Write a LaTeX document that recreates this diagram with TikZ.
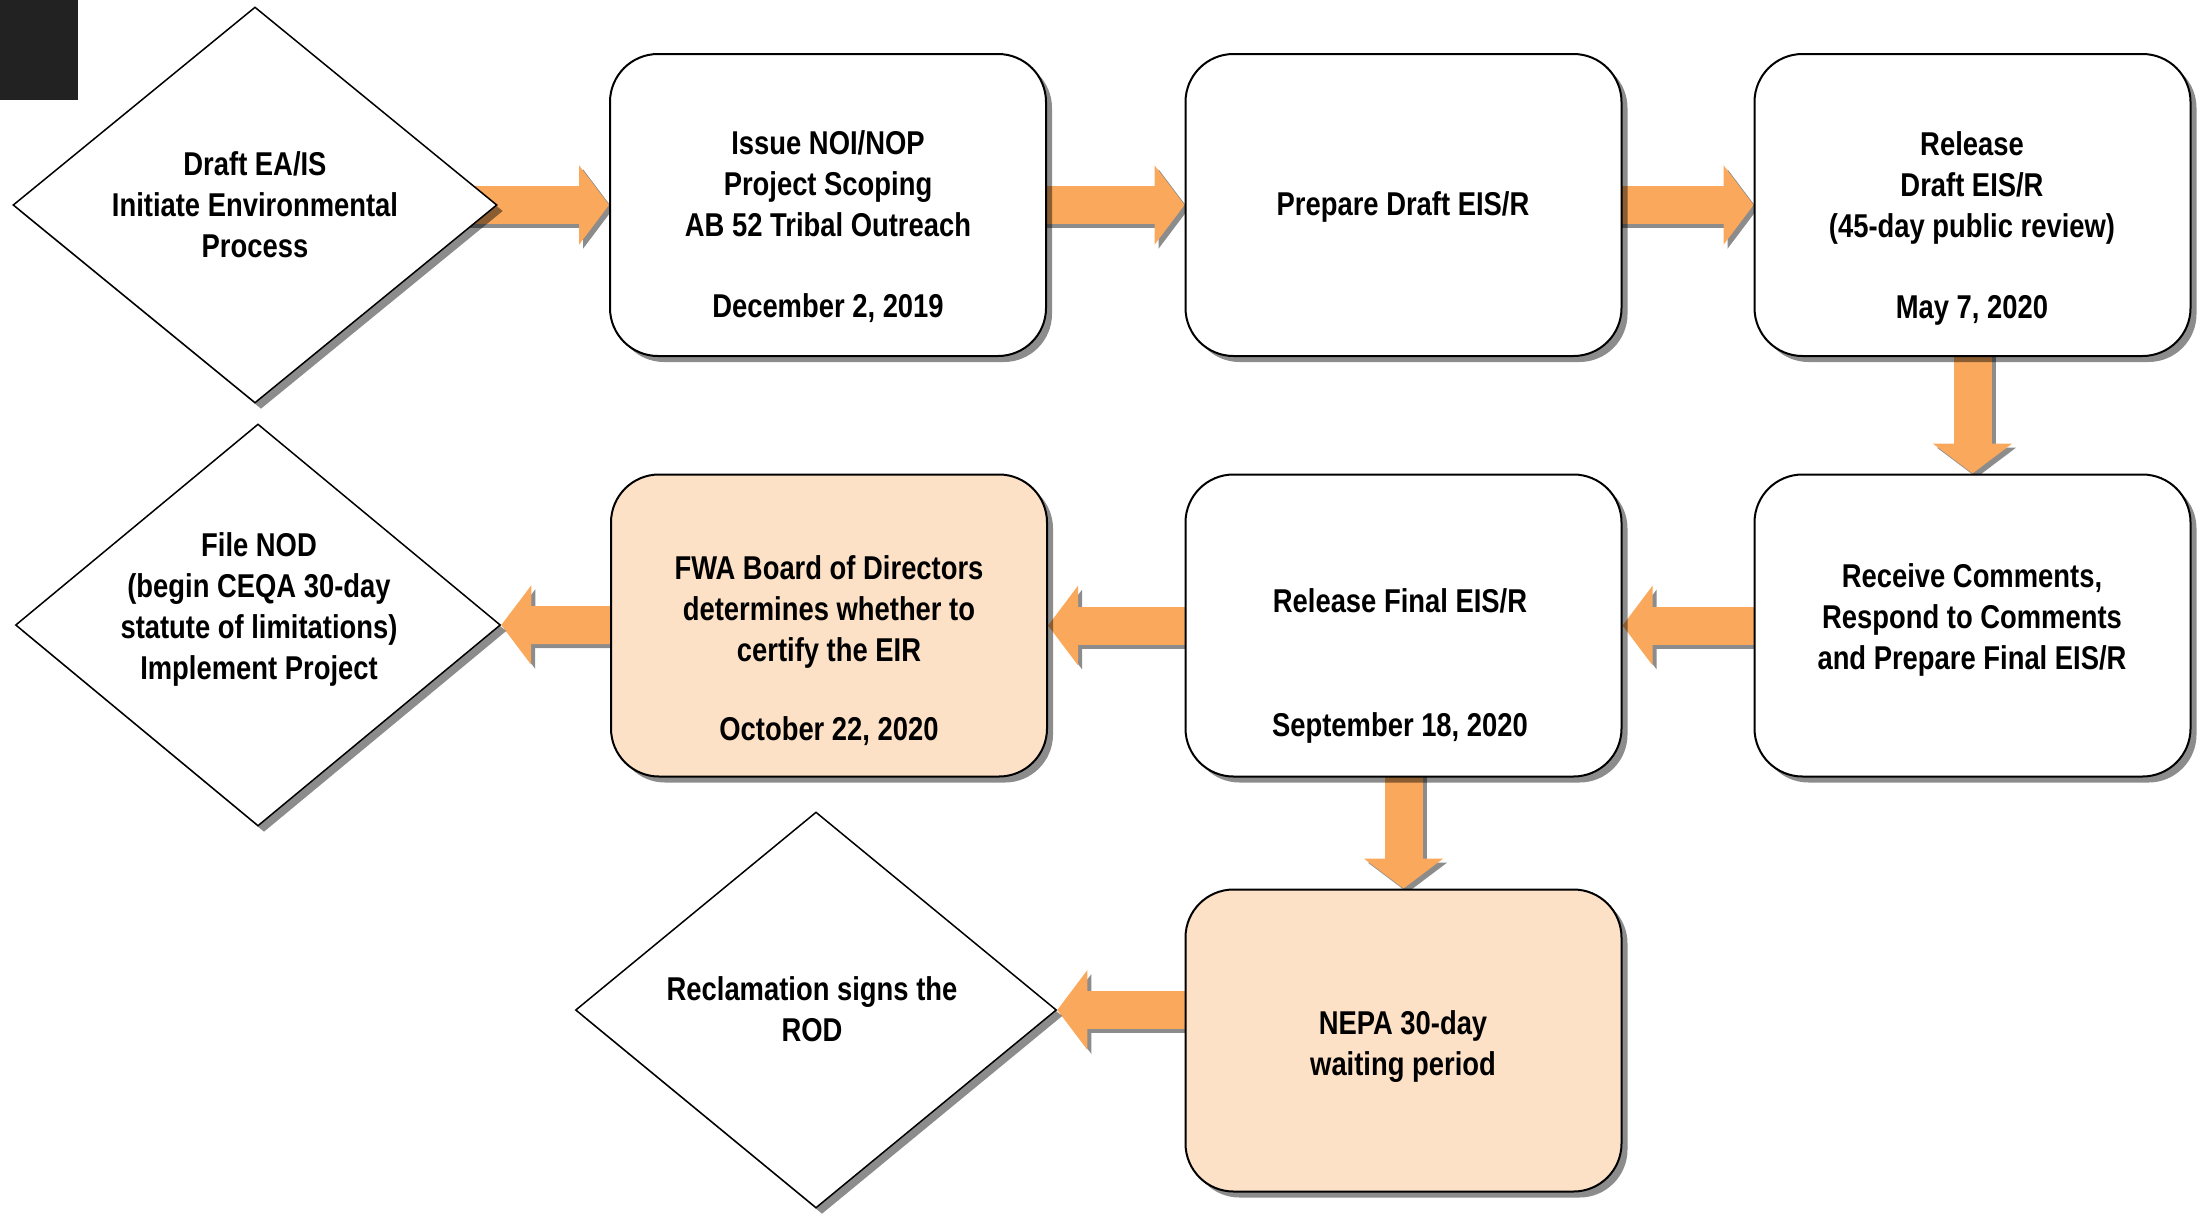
\documentclass[tikz,border=0pt]{standalone}
\usepackage{fontspec}
\setmainfont{Liberation Sans}[FakeStretch=0.83]
\usetikzlibrary{shapes.geometric,shadows,arrows.meta}
\pgfdeclarelayer{background}
\pgfsetlayers{background,main}
\definecolor{arrowor}{HTML}{FAA85B}
\definecolor{peach}{HTML}{FDE1C7}
\definecolor{blk}{HTML}{222222}
\begin{document}
\begin{tikzpicture}[x=1pt,y=-1pt,
  box/.style={draw=black, line width=2pt, fill=white, rounded corners=48pt,
    minimum width=436pt, minimum height=302pt, inner sep=0pt,
    drop shadow={shadow xshift=6pt, shadow yshift=-6pt, opacity=0.45, fill=black}},
  pbox/.style={box, fill=peach},
  dia/.style={diamond, draw=black, line width=1.5pt, fill=white, inner sep=0pt,
    drop shadow={shadow xshift=6pt, shadow yshift=-6pt, opacity=0.45, fill=black}},
  txt/.style={align=center, inner sep=0pt, font=\bfseries\fontsize{33pt}{41pt}\selectfont},
  flow/.style={draw=arrowor, line width=38pt, -{Triangle[length=30pt,width=78pt]}},
  flowshadow/.style={draw=black!45, line width=38pt, -{Triangle[length=30pt,width=78pt]},
    transform canvas={xshift=4pt,yshift=-4pt}},
]
\useasboundingbox (0,0) rectangle (2200,1213);
\fill[blk] (0,0) rectangle (78,100);

% shapes
\node[dia, minimum width=484pt, minimum height=396pt] (d1) at (255,205) {};
\node[box] (b2) at (828,205) {};
\node[box] (b3) at (1403.5,205) {};
\node[box] (b4) at (1972.5,205) {};
\node[box] (b5) at (1972.5,625.5) {};
\node[box] (b6) at (1403.5,625.5) {};
\node[pbox] (b7) at (829,625.5) {};
\node[dia, minimum width=485pt, minimum height=402pt] (d2) at (258,625) {};
\node[pbox] (b8) at (1403.5,1040.5) {};
\node[dia, minimum width=481pt, minimum height=396pt] (d3) at (816,1010) {};

% texts
\node[txt] (t1) at (255,205) {Draft EA/IS\\Initiate Environmental\\Process};
\node[txt] (t2) at (828,227) {Issue NOI/NOP\\Project Scoping\\AB 52 Tribal Outreach\\[40pt]December 2, 2019};
\node[txt] (t3) at (1403,207) {Prepare Draft EIS/R};
\node[txt] (t4) at (1972,228) {Release\\Draft EIS/R\\(45-day public review)\\[40pt]May 7, 2020};
\node[txt] (t5) at (1972,620) {Receive Comments,\\Respond to Comments\\and Prepare Final EIS/R};
\node[txt] (t6) at (1400,666) {Release Final EIS/R\\[83pt]September 18, 2020};
\node[txt] (t7) at (829,651) {FWA Board of Directors\\determines whether to\\certify the EIR\\[38pt]October 22, 2020};
\node[txt] (t8) at (259,609) {File NOD\\(begin CEQA 30-day\\statute of limitations)\\Implement Project};
\node[txt] (t9) at (1403,1047) {NEPA 30-day\\waiting period};
\node[txt] (t10) at (812,1009) {Reclamation signs the\\ROD};

% connectors
\begin{pgfonlayer}{background}
\draw[flowshadow] (d1.center) -- (b2.west);
\draw[flow] (d1.center) -- (b2.west);
\draw[flowshadow] (b2.center) -- (b3.west);
\draw[flow] (b2.center) -- (b3.west);
\draw[flowshadow] (b3.center) -- (b4.west);
\draw[flow] (b3.center) -- (b4.west);
\draw[flowshadow] (b4.center) -- (b5.north);
\draw[flow] (b4.center) -- (b5.north);
\draw[flowshadow] (b5.center) -- (b6.east);
\draw[flow] (b5.center) -- (b6.east);
\draw[flowshadow] (b6.center) -- (b7.east);
\draw[flow] (b6.center) -- (b7.east);
\draw[flowshadow] (b7.center) -- (d2.east);
\draw[flow] (b7.center) -- (d2.east);
\draw[flowshadow] (b6.center) -- (b8.north);
\draw[flow] (b6.center) -- (b8.north);
\draw[flowshadow] (b8.center |- d3.east) -- (d3.east);
\draw[flow] (b8.center |- d3.east) -- (d3.east);
\end{pgfonlayer}
\end{tikzpicture}
\end{document}
